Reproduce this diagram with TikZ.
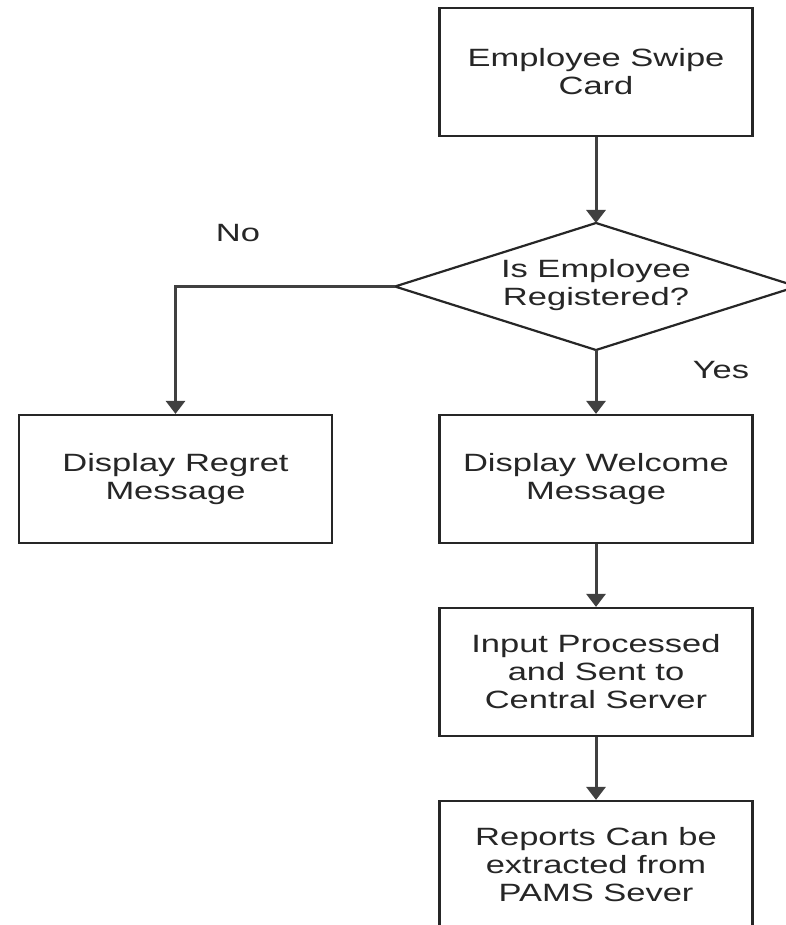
\documentclass[tikz,border=0pt]{standalone}
\usepackage{fontspec}
\setmainfont[FakeStretch=1.38]{Liberation Sans}
\usetikzlibrary{arrows.meta}
\begin{document}
\begin{tikzpicture}[x=1pt,y=1pt,
  every node/.style={font=\fontsize{25}{28}\selectfont, text=black!85},
  procbox/.style={draw=black!85, line width=2.2pt, minimum width=313pt, minimum height=128pt, inner sep=0pt, align=center, fill=white},
  diamondline/.style={draw=black!85, line width=2.2pt, fill=white},
  flow/.style={draw=black!75, line width=3pt, -{Triangle[width=19pt,length=13pt]}},
  lbl/.style={inner sep=0pt}
]
\useasboundingbox (0,0) rectangle (785,-925);
\node[procbox] (swipe) at (596,-72) {Employee Swipe\\Card};
\coordinate (dtop) at (596,-223);
\coordinate (dleft) at (395,-286.5);
\coordinate (dbot) at (596,-350);
\coordinate (dright) at (797,-286.5);
\draw[diamondline] (dtop) -- (dright) -- (dbot) -- (dleft) -- cycle;
\node[align=center, inner sep=0pt] (reg) at (596,-285) {Is Employee\\Registered?};
\node[procbox] (regret) at (175.5,-479) {Display Regret\\Message};
\node[procbox] (welcome) at (596,-479) {Display Welcome\\Message};
\node[procbox] (input) at (596,-672) {Input Processed\\and Sent to\\Central Server};
\node[procbox] (reports) at (596,-865) {Reports Can be\\extracted from\\PAMS Sever};
\node[lbl] (no) at (238,-233) {No};
\node[lbl] (yes) at (721,-370) {Yes};
\draw[flow] (swipe) -- (dtop);
\draw[flow] (dleft) -| (regret.north);
\draw[flow] (dbot) -- (welcome.north);
\draw[flow] (welcome) -- (input);
\draw[flow] (input) -- (reports);
\end{tikzpicture}
\end{document}
